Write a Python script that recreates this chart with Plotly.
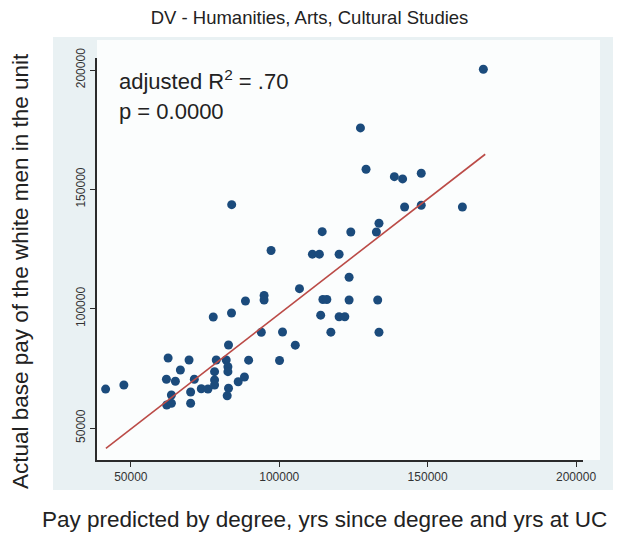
import plotly.graph_objects as go

# pay predicted by degree / yrs since degree / yrs at UC (x) vs actual base pay (y)
predicted_pay = [
    41500, 47650, 62560, 61990, 65010, 63670, 62090, 63670, 66690, 69610,
    71390, 70150, 70150, 73740, 75990, 77770, 78210, 78210, 78210, 78780,
    82140, 82910, 82710, 82710, 82910, 82470, 83920, 83980, 86170, 88280,
    89690, 88620, 93960, 94900, 94900, 97250, 100100, 101110, 105410, 106820,
    111180, 113530, 114470, 114710, 116050, 113970, 117400, 120180, 120180, 122100,
    124110, 123540, 123540, 127370, 129250, 132740, 133610, 133180, 133610, 138790,
    141570, 147850, 142240, 147850, 161720, 168770,
]
actual_pay = [
    66300, 68020, 79340, 70410, 69570, 63830, 59640, 60350, 74310, 78500,
    70410, 65090, 60350, 66430, 66345, 96520, 73600, 70120, 68020, 78500,
    78500, 84790, 75690, 73600, 66640, 63500, 98200, 143580, 69400, 71370,
    78410, 103230, 90110, 105530, 103640, 124390, 78290, 90230, 84700, 108380,
    122840, 122840, 132270, 103850, 103850, 97270, 90150, 122800, 96600, 96600,
    132140, 113160, 103640, 175730, 158420, 132140, 135790, 103640, 90110, 155320,
    154360, 156740, 142620, 143330, 142620, 200330,
]

# fitted values (lfit) at the ends of the data range
fit_x = [41600, 169400]
fit_y = [41500, 164700]

x_ticks = [50000, 100000, 150000, 200000]
y_ticks = [50000, 100000, 150000, 200000]

FONT = "Liberation Sans, Arial, sans-serif"

fig = go.Figure()
fig.add_trace(go.Scatter(x=predicted_pay, y=actual_pay, mode="markers",
                         marker=dict(color="#1b4b7c", size=9), showlegend=False))
fig.add_trace(go.Scatter(x=fit_x, y=fit_y, mode="lines",
                         line=dict(color="#bb4b47", width=1.6), showlegend=False))

axis_style = dict(showgrid=False, zeroline=False, showline=True, linecolor="#2b2b2b",
                  linewidth=1.5, ticks="outside", ticklen=5, tickcolor="#2b2b2b",
                  tickwidth=1.2, tickfont=dict(family=FONT, size=12, color="#333"))

fig.update_xaxes(range=[38600, 202350], tickvals=x_ticks,
                 ticktext=[str(v) for v in x_ticks], **axis_style)
fig.update_yaxes(range=[36590, 205030], tickvals=y_ticks,
                 ticktext=[str(v) for v in y_ticks], tickangle=-90, **axis_style)

fig.update_layout(
    width=619, height=534,
    margin=dict(l=97, r=36, t=58, b=74),
    paper_bgcolor="white", plot_bgcolor="white",
    font=dict(family=FONT, color="#222"),
    title=dict(text="DV - Humanities, Arts, Cultural Studies", x=0.5, xanchor="center",
               y=1 - 18 / 534, yanchor="middle", font=dict(size=18.5, color="#222")),
    shapes=[
        # light blue graph region, white plot region on top of it
        dict(type="rect", xref="paper", yref="paper", layer="below",
             x0=-44 / 486, x1=1 + 30 / 486, y0=-30 / 402, y1=1 + 21 / 402,
             fillcolor="#e9f1f3", line=dict(width=0)),
        dict(type="rect", xref="paper", yref="paper", layer="below",
             x0=0, x1=1 + 17 / 486, y0=0, y1=1 + 18 / 402,
             fillcolor="#fbfdfd", line=dict(width=0)),
    ],
    annotations=[
        dict(text="adjusted R<sup>2</sup> = .70", xref="x domain", yref="y domain",
             x=0.041, y=0.945, xanchor="left", yanchor="middle", showarrow=False,
             font=dict(size=22, color="#222")),
        dict(text="p = 0.0000", xref="x domain", yref="y domain",
             x=0.041, y=0.866, xanchor="left", yanchor="middle", showarrow=False,
             font=dict(size=22, color="#222")),
        dict(text="Actual base pay of the white men in the unit", xref="paper", yref="paper",
             x=0, y=0.5, xshift=-77, yshift=-12, textangle=-90, showarrow=False,
             xanchor="center", yanchor="middle", font=dict(size=22.5, color="#222")),
        dict(text="Pay predicted by degree, yrs since degree and yrs at UC", xref="paper",
             yref="paper", x=0.5, y=0, xshift=-16, yshift=-59, showarrow=False,
             xanchor="center", yanchor="middle", font=dict(size=22.5, color="#222")),
    ],
)

# drop the default body margin so the figure sits at the page's top-left corner
fig.write_html("out.html", config={"displayModeBar": False},
               post_script="document.body.style.margin = '0px';")
